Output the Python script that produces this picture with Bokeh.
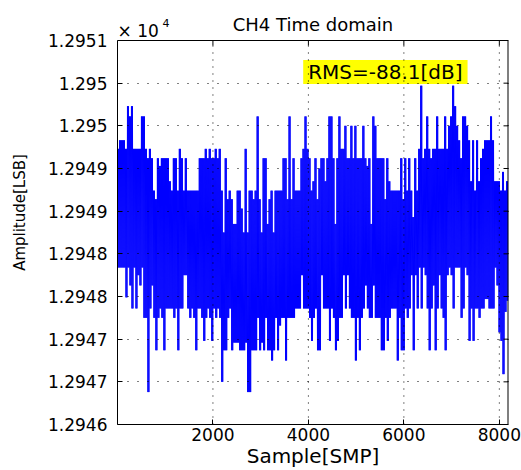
import math
from bokeh.plotting import figure
from bokeh.models import Range1d, FixedTicker, Label
from bokeh.embed import file_html
from bokeh.resources import INLINE

# ---------------- data ----------------
n_samples = 8192
# visible upper / lower extremes of the trace, one value per ~42-sample block
upper = [
    12949.73, 12949.83, 12949.83, 12949.83, 12949.73, 12950.23, 12950.11, 12950.23, 12949.73, 12949.73,
    12949.73, 12949.73, 12950.11, 12950.11, 12949.73, 12949.62, 12949.73, 12949.62, 12949.24, 12949.14,
    12949.62, 12949.53, 12949.62, 12949.62, 12949.62, 12949.62, 12949.35, 12949.24, 12949.62, 12949.62,
    12949.24, 12949.73, 12949.62, 12949.24, 12949.62, 12949.24, 12949.24, 12949.24, 12949.24, 12949.24,
    12949.24, 12949.62, 12949.62, 12949.62, 12949.73, 12949.62, 12949.73, 12949.62, 12949.62, 12949.73,
    12949.62, 12949.73, 12949.24, 12948.75, 12949.62, 12949.14, 12949.24, 12949.14, 12948.85, 12948.85,
    12949.24, 12949.24, 12949.03, 12948.75, 12949.73, 12948.75, 12949.24, 12949.24, 12949.14, 12949.24,
    12950.11, 12949.14, 12948.75, 12949.62, 12949.62, 12948.85, 12949.14, 12949.24, 12948.75, 12949.24,
    12949.24, 12949.24, 12949.24, 12949.62, 12949.62, 12949.14, 12950.11, 12949.14, 12949.62, 12949.24,
    12949.24, 12949.24, 12949.62, 12949.73, 12950.11, 12949.73, 12949.62, 12949.24, 12949.35, 12949.62,
    12949.14, 12949.50, 12949.62, 12949.62, 12949.35, 12949.62, 12950.11, 12950.11, 12949.62, 12948.85,
    12949.62, 12950.11, 12949.73, 12949.73, 12950.00, 12949.62, 12949.62, 12950.00, 12949.62, 12950.00,
    12949.62, 12949.62, 12949.62, 12950.00, 12949.62, 12949.53, 12949.62, 12948.85, 12950.11, 12950.00,
    12949.62, 12949.62, 12949.62, 12949.62, 12949.14, 12949.62, 12949.35, 12949.24, 12949.24, 12949.24,
    12949.24, 12949.24, 12949.62, 12949.14, 12949.62, 12949.24, 12949.62, 12949.24, 12948.93, 12949.62,
    12949.24, 12949.73, 12950.47, 12949.62, 12949.73, 12950.11, 12949.73, 12949.62, 12949.73, 12949.73,
    12950.11, 12949.73, 12949.73, 12949.73, 12950.11, 12949.73, 12950.00, 12950.11, 12950.47, 12950.23,
    12950.00, 12949.83, 12949.62, 12950.11, 12950.11, 12950.00, 12949.83, 12949.35, 12949.83, 12949.24,
    12949.83, 12949.35, 12949.62, 12949.73, 12949.83, 12949.83, 12949.83, 12950.11, 12949.83, 12949.35,
    12949.35, 12949.35, 12949.24, 12949.46, 12949.24, 12949.35,
]
lower = [
    12948.34, 12948.34, 12948.34, 12948.34, 12947.99, 12948.34, 12948.13, 12947.86, 12948.34, 12947.86,
    12948.25, 12948.13, 12948.34, 12947.75, 12947.75, 12946.88, 12947.86, 12948.13, 12947.75, 12947.37,
    12947.75, 12947.86, 12947.75, 12947.37, 12947.86, 12947.86, 12947.86, 12947.86, 12947.75, 12947.86,
    12947.37, 12947.86, 12947.86, 12948.25, 12948.25, 12947.86, 12947.75, 12947.86, 12947.75, 12947.37,
    12947.86, 12947.86, 12947.75, 12947.48, 12947.75, 12947.86, 12947.75, 12947.48, 12947.86, 12947.75,
    12947.86, 12947.75, 12947.00, 12947.37, 12947.37, 12947.75, 12947.86, 12947.37, 12947.46, 12947.46,
    12947.46, 12947.37, 12947.37, 12947.37, 12947.46, 12946.88, 12946.88, 12947.37, 12947.37, 12947.37,
    12947.75, 12947.37, 12947.46, 12947.37, 12947.75, 12947.37, 12947.37, 12947.25, 12947.37, 12947.75,
    12947.37, 12947.66, 12947.75, 12947.75, 12947.25, 12947.75, 12947.75, 12947.75, 12947.75, 12947.86,
    12947.86, 12947.86, 12948.25, 12947.86, 12947.86, 12947.86, 12947.75, 12947.48, 12947.75, 12947.86,
    12947.37, 12947.37, 12948.25, 12947.86, 12947.86, 12947.86, 12947.48, 12947.86, 12947.75, 12947.37,
    12947.48, 12947.75, 12947.75, 12948.25, 12947.86, 12948.25, 12947.86, 12947.75, 12947.75, 12947.25,
    12947.75, 12947.37, 12947.75, 12947.86, 12948.13, 12947.86, 12947.75, 12947.75, 12948.13, 12947.75,
    12947.75, 12947.75, 12947.37, 12947.37, 12947.75, 12947.48, 12947.75, 12947.86, 12947.86, 12947.86,
    12947.25, 12947.75, 12947.37, 12947.37, 12947.86, 12947.75, 12947.86, 12948.25, 12947.37, 12948.25,
    12947.86, 12948.34, 12947.86, 12948.34, 12948.25, 12947.86, 12947.37, 12947.86, 12948.13, 12947.37,
    12947.86, 12948.25, 12947.86, 12947.75, 12947.37, 12948.25, 12948.34, 12948.25, 12947.86, 12948.34,
    12948.34, 12948.34, 12947.75, 12947.86, 12948.34, 12948.25, 12947.48, 12947.86, 12947.48, 12947.86,
    12947.86, 12947.75, 12947.86, 12947.86, 12947.97, 12947.97, 12947.86, 12947.86, 12947.86, 12948.34,
    12948.13, 12947.58, 12947.48, 12947.09, 12947.82, 12947.95,
]
assert len(upper) == len(lower)

x_ticks = [2000, 4000, 6000, 8000]
y_ticks = [12946.5, 12947.0, 12947.5, 12948.0, 12948.5, 12949.0, 12949.5, 12950.0, 12950.5, 12951.0]
y_tick_labels = ["1.2946", "1.2947", "1.2947", "1.2948", "1.2948",
                 "1.2949", "1.2949", "1.295", "1.295", "1.2951"]
title_text = "CH4 Time domain"
x_label = "Sample[SMP]"
y_label = "Amplitude[LSB]"
exp_base, exp_power = "× 10", "4"
rms_text = "RMS=-88.1[dB]"
rms_x, rms_y = 3891, 12950.49

# trace: alternate between the upper and lower extreme inside each block
nb = len(upper)
blk = (n_samples - 1) / nb
xs, ys = [], []
for k in range(nb):
    s0 = 1 + k * blk
    for j in range(4):
        xs.append(s0 + j * blk / 4)
        ys.append(upper[k] if j % 2 == 0 else lower[k])

FONT = "DejaVu Sans"
x0, x1 = 1, n_samples
y0, y1 = y_ticks[0], y_ticks[-1]

# layout: the axes box spans 117..508 x 40..424 px; the plot area is extended
# to the top of the canvas so that the title row can hold annotations
W, H = 521, 470
box_top, box_h = 40, 384
y_top = y1 + (y1 - y0) * box_top / box_h

p = figure(width=W, height=H,
           x_range=Range1d(x0, x1), y_range=Range1d(y0, y_top),
           output_backend="svg", toolbar_location=None,
           min_border_left=117, min_border_right=13, min_border_top=0, min_border_bottom=46)
p.background_fill_color = "white"
p.border_fill_color = "white"
p.outline_line_color = None

p.line(xs, ys, line_color="#0000FF", line_width=1)

# axes
xa = p.xaxis[0]
xa.ticker = FixedTicker(ticks=x_ticks)
xa.axis_label = x_label
xa.axis_label_standoff = 0
xa.axis_label_text_font_size = "20px"
ya = p.yaxis[0]
ya.ticker = FixedTicker(ticks=y_ticks)
ya.bounds = (y0, y1)
ya.major_label_overrides = {t: s for t, s in zip(y_ticks, y_tick_labels)}
ya.axis_label = y_label
ya.axis_label_standoff = 16
ya.axis_label_text_font_size = "15px"
for ax in (xa, ya):
    ax.major_tick_in = 5
    ax.major_tick_out = 0
    ax.minor_tick_line_color = None
    ax.axis_line_color = "black"
    ax.major_tick_line_color = "black"
    ax.major_label_text_font = FONT
    ax.major_label_text_font_size = "17px"
    ax.major_label_text_color = "black"
    ax.axis_label_text_font = FONT
    ax.axis_label_text_font_style = "normal"
    ax.axis_label_text_color = "black"
xa.major_label_standoff = 3
ya.major_label_standoff = 10

# dotted grid, drawn over the trace
p.xgrid.visible = False
p.segment(x0=x_ticks, y0=[y0] * len(x_ticks), x1=x_ticks, y1=[y1] * len(x_ticks),
          line_color="black", line_width=1, line_dash="1 6", level="overlay")
p.ygrid.ticker = FixedTicker(ticks=y_ticks[:-1])
p.ygrid.grid_line_color = "black"
p.ygrid.grid_line_dash = "1 9"
p.ygrid.level = "overlay"

# top and right sides of the box, with inward ticks
p.segment(x0=[x0], y0=[y1], x1=[x1], y1=[y1], line_color="black", line_width=1)
p.segment(x0=[x1], y0=[y0], x1=[x1], y1=[y1], line_color="black", line_width=2)
p.ray(x=x_ticks, y=[y1] * len(x_ticks), length=5, length_units="screen",
      angle=-math.pi / 2, line_color="black", line_width=1)
p.ray(x=[x1] * len(y_ticks), y=y_ticks, length=5, length_units="screen",
      angle=math.pi, line_color="black", line_width=1)

# title row
p.add_layout(Label(x=(x0 + x1) / 2, y=y1, y_offset=16, text=title_text,
                   text_align="center", text_baseline="middle",
                   text_font=FONT, text_font_size="18px", text_color="black"))
p.add_layout(Label(x=x0, y=y1, y_offset=10, text=exp_base,
                   text_align="left", text_baseline="alphabetic",
                   text_font=FONT, text_font_size="17px", text_color="black"))
p.add_layout(Label(x=x0, y=y1, x_offset=45, y_offset=18, text=exp_power,
                   text_align="left", text_baseline="alphabetic",
                   text_font=FONT, text_font_size="11px", text_color="black"))
# RMS box
p.add_layout(Label(x=rms_x, y=rms_y, text=rms_text,
                   text_align="left", text_baseline="bottom",
                   text_font=FONT, text_font_size="20px", text_color="black",
                   background_fill_color="#FFFF00",
                   padding=dict(left=5, right=5, top=0, bottom=0)))

open("out.html", "w").write(file_html(p, INLINE))
